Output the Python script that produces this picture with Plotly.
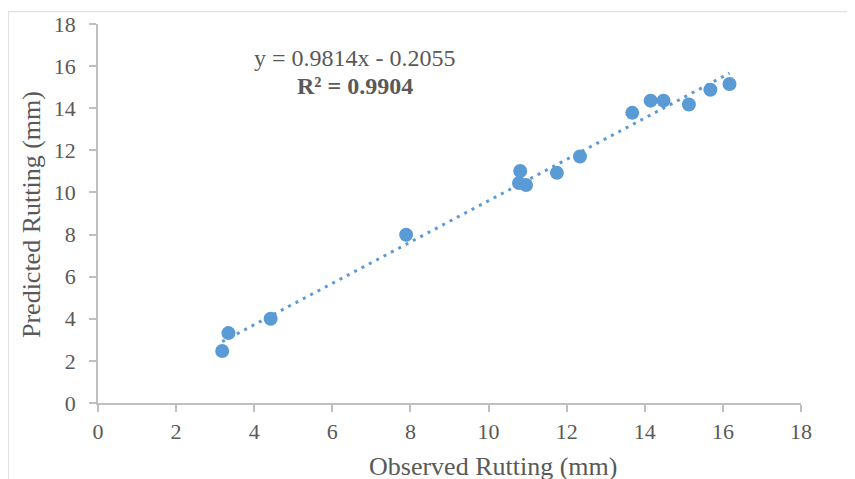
import numpy as np
import plotly.graph_objects as go

observed = [3.18, 3.34, 4.42, 7.89, 10.81, 10.78, 10.96, 11.75, 12.34, 13.68, 14.15, 14.48, 15.13, 15.68, 16.17]
predicted = [2.47, 3.32, 4.00, 7.99, 11.02, 10.45, 10.35, 10.93, 11.71, 13.78, 14.36, 14.36, 14.18, 14.88, 15.15]

slope = 0.9814
intercept = -0.2055
r_squared = 0.9904

tick_vals = [0, 2, 4, 6, 8, 10, 12, 14, 16, 18]

FONT = "Liberation Serif, Times New Roman, serif"
GREY = "#595959"
BLUE = "#5B9BD5"
AXIS = "#BFBFBF"

# plot-area position in the viewport (the page body adds an 8px offset)
PL, PT, PW, PH = 97.7, 24.3, 703.3, 379.0
OFF = 8


def px(xv):
    return (xv - PL) / PW


def py(yv):
    return (PT + PH - yv) / PH


trend_x = np.array([min(observed), max(observed)])
trend_y = slope * trend_x + intercept

fig = go.Figure()
fig.add_trace(go.Scatter(
    x=observed, y=predicted, mode="markers",
    marker=dict(color=BLUE, size=14, line=dict(width=0)),
    showlegend=False, cliponaxis=False,
))
fig.add_trace(go.Scatter(
    x=trend_x, y=trend_y, mode="lines",
    line=dict(color=BLUE, width=3, dash="3px,5.3px"),
    showlegend=False,
))

axis_common = dict(
    range=[0, 18], tickvals=tick_vals, showgrid=False, zeroline=False,
    showline=True, linecolor=AXIS, linewidth=1.5, automargin=False,
    ticks="outside", ticklen=7, tickwidth=1.5, tickcolor=AXIS,
    tickfont=dict(family=FONT, size=22, color=GREY),
)

W, H = 855, 479
fig.update_layout(
    width=W, height=H,
    margin=dict(l=PL - OFF, r=W - (PL + PW - OFF), t=PT - OFF, b=H - (PT + PH - OFF)),
    paper_bgcolor="white", plot_bgcolor="white",
    xaxis=dict(**axis_common, ticklabelstandoff=1),
    yaxis=dict(**axis_common, ticklabelstandoff=9),
    annotations=[
        dict(xref="paper", yref="paper", x=px(354.5), y=py(58),
             text=f"y = {slope}x - {abs(intercept)}", showarrow=False,
             font=dict(family=FONT, size=24, color=GREY), xanchor="center", yanchor="middle"),
        dict(xref="paper", yref="paper", x=px(354.5), y=py(86),
             text=f"<b>R² = {r_squared}</b>", showarrow=False,
             font=dict(family=FONT, size=24, color=GREY), xanchor="center", yanchor="middle"),
        dict(xref="paper", yref="paper", x=px(492.8), y=py(467),
             text="Observed Rutting (mm)", showarrow=False,
             font=dict(family=FONT, size=26, color=GREY), xanchor="center", yanchor="middle"),
        dict(xref="paper", yref="paper", x=px(31), y=py(215),
             text="Predicted Rutting (mm)", showarrow=False, textangle=-90,
             font=dict(family=FONT, size=26, color=GREY), xanchor="center", yanchor="middle"),
    ],
    shapes=[
        dict(type="line", xref="paper", yref="paper",
             x0=px(8), x1=px(8), y0=py(500), y1=py(12),
             line=dict(color="#D9D9D9", width=1), layer="above"),
        dict(type="line", xref="paper", yref="paper",
             x0=px(8), x1=px(870), y0=py(12), y1=py(12),
             line=dict(color="#D9D9D9", width=1), layer="above"),
    ],
)

fig.write_html("out.html")
